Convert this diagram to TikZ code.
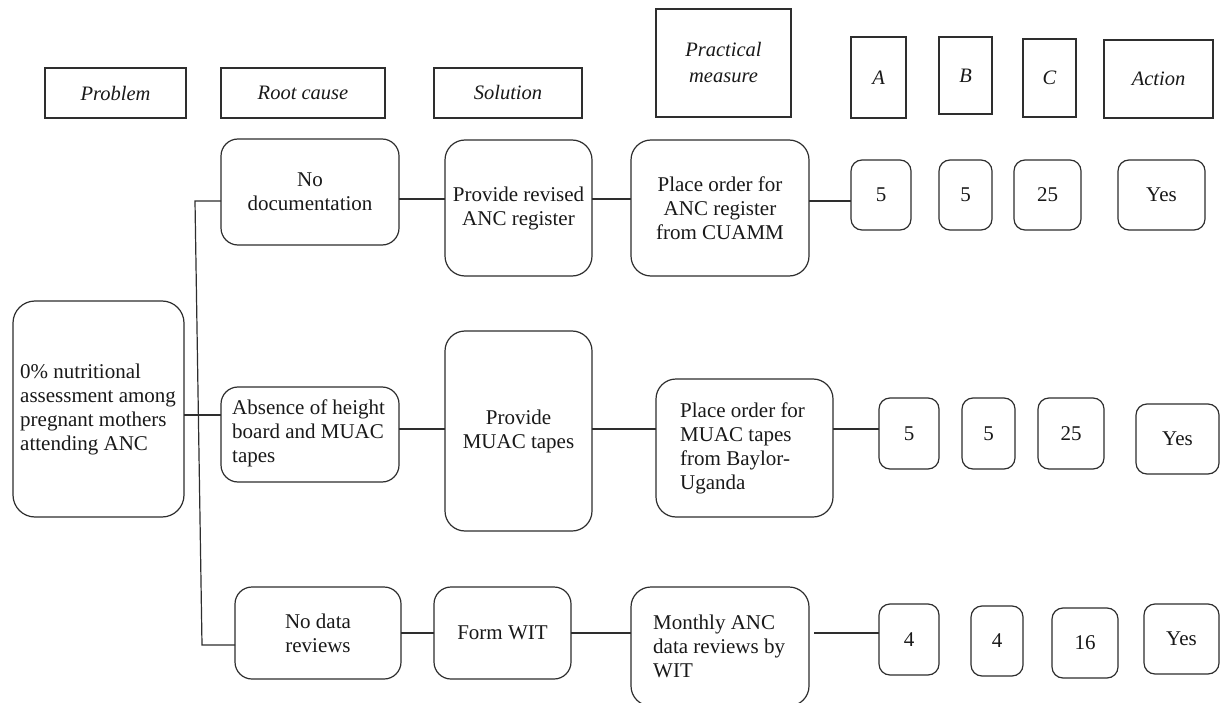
\documentclass[tikz,border=0pt]{standalone}
\usepackage{fontspec}
\setmainfont{Liberation Serif}
\begin{document}
\begin{tikzpicture}[x=1pt,y=-1pt,
  base/.style={draw=black!82, line width=1.2pt, inner sep=0pt, outer sep=0pt,
    font=\fontsize{21}{24}\selectfont, text=black!90},
  hdr/.style={base, rectangle, align=center, font=\fontsize{20.5}{26}\selectfont\itshape},
  rbox/.style={base, rounded corners=17pt, align=center},
  sbox/.style={base, rounded corners=11pt, align=center},
  lbox/.style={base, rounded corners=17pt},
  ltext/.style={anchor=west, align=left, inner sep=0pt, font=\fontsize{21}{24}\selectfont, text=black!90},
  conn/.style={draw=black!82, line width=1.2pt}
]
\useasboundingbox (0,0) rectangle (1220,703);
\fill[white] (0,0) rectangle (1220,703);

% headers
\node[hdr, minimum width=141pt, minimum height=50pt] (hProb) at (115.5,93) {Problem};
\node[hdr, minimum width=164pt, minimum height=50pt] (hRoot) at (303,93) {Root cause};
\node[hdr, minimum width=148pt, minimum height=50pt] (hSol) at (508,93) {Solution};
\node[hdr, minimum width=135pt, minimum height=108pt] (hPrac) at (723.5,63) {Practical\\measure};
\node[hdr, minimum width=55pt, minimum height=81pt] (hA) at (878.5,77.5) {A};
\node[hdr, minimum width=53pt, minimum height=77pt] (hB) at (965.5,75.5) {B};
\node[hdr, minimum width=53pt, minimum height=78pt] (hC) at (1049.5,78) {C};
\node[hdr, minimum width=109pt, minimum height=78pt] (hAct) at (1158.5,79) {Action};

% row 1
\node[rbox, minimum width=178pt, minimum height=106pt] (nodoc) at (310,192) {No\\documentation};
\node[rbox, rounded corners=20pt, minimum width=147pt, minimum height=136pt] (prov1) at (518.5,208) {Provide revised\\ANC register};
\node[rbox, rounded corners=20pt, minimum width=178pt, minimum height=136pt] (place1) at (720,208) {Place order for\\ANC register\\from CUAMM};
\node[sbox, minimum width=60pt, minimum height=70pt] (r1a) at (881,195) {5};
\node[sbox, minimum width=53pt, minimum height=70pt] (r1b) at (965.5,195) {5};
\node[sbox, minimum width=67pt, minimum height=70pt] (r1c) at (1047.5,195) {25};
\node[sbox, minimum width=87pt, minimum height=70pt] (r1d) at (1161.5,195) {Yes};

% row 2
\node[lbox, rounded corners=22pt, minimum width=171pt, minimum height=216pt] (prob) at (98.5,409) {};
\node[ltext] (probT) at ([xshift=7pt]prob.west) {0\% nutritional\\assessment among\\pregnant mothers\\attending ANC};
\node[lbox, minimum width=178pt, minimum height=95pt] (absence) at (310,434.5) {};
\node[ltext] (absenceT) at ([xshift=11pt,yshift=1pt]absence.west) {Absence of height\\board and MUAC\\tapes};
\node[rbox, rounded corners=20pt, minimum width=147pt, minimum height=200pt] (prov2) at (518.5,431) {Provide\\MUAC tapes};
\node[lbox, rounded corners=20pt, minimum width=177pt, minimum height=138pt] (place2) at (744.5,448) {};
\node[ltext] (place2T) at ([xshift=24pt]place2.west) {Place order for\\MUAC tapes\\from Baylor-\\Uganda};
\node[sbox, minimum width=60pt, minimum height=71pt] (r2a) at (909,433.5) {5};
\node[sbox, minimum width=53pt, minimum height=71pt] (r2b) at (988.5,433.5) {5};
\node[sbox, minimum width=66pt, minimum height=71pt] (r2c) at (1071,433.5) {25};
\node[sbox, minimum width=83pt, minimum height=70pt] (r2d) at (1177.5,439) {Yes};

% row 3
\node[rbox, minimum width=166pt, minimum height=92pt] (nodata) at (318,633) {No data\\reviews};
\node[rbox, minimum width=137pt, minimum height=92pt] (formwit) at (502.5,633) {Form WIT};
\node[lbox, rounded corners=20pt, minimum width=178pt, minimum height=119pt] (monthly) at (720,646.5) {};
\node[ltext] (monthlyT) at ([xshift=22pt]monthly.west) {Monthly ANC\\data reviews by\\WIT};
\node[sbox, minimum width=60pt, minimum height=71pt] (r3a) at (909,639.5) {4};
\node[sbox, minimum width=52pt, minimum height=70pt] (r3b) at (997,641) {4};
\node[sbox, minimum width=66pt, minimum height=70pt] (r3c) at (1085,643) {16};
\node[sbox, minimum width=75pt, minimum height=70pt] (r3d) at (1181.5,639) {Yes};

% connector levels
\coordinate (La) at (0,199);
\coordinate (Lb) at (0,201);
\coordinate (Lc) at (0,415);
\coordinate (Ld) at (0,429);
\coordinate (Le) at (0,633);
\coordinate (J1) at (195,201);
\coordinate (J2) at (202,645);

\draw[conn] (nodoc.west |- J1) -- (J1) -- (J2) -- (nodata.west |- J2);
\draw[conn] (prob.east |- Lc) -- (absence.west |- Lc);
\draw[conn] (nodoc.east |- La) -- (prov1.west |- La);
\draw[conn] (prov1.east |- La) -- (place1.west |- La);
\draw[conn] (place1.east |- Lb) -- (r1a.west |- Lb);
\draw[conn] (absence.east |- Ld) -- (prov2.west |- Ld);
\draw[conn] (prov2.east |- Ld) -- (place2.west |- Ld);
\draw[conn] (place2.east |- Ld) -- (r2a.west |- Ld);
\draw[conn] (nodata.east |- Le) -- (formwit.west |- Le);
\draw[conn] (formwit.east |- Le) -- (monthly.west |- Le);
\draw[conn] ([xshift=5pt]monthly.east |- Le) -- (r3a.west |- Le);
\end{tikzpicture}
\end{document}
